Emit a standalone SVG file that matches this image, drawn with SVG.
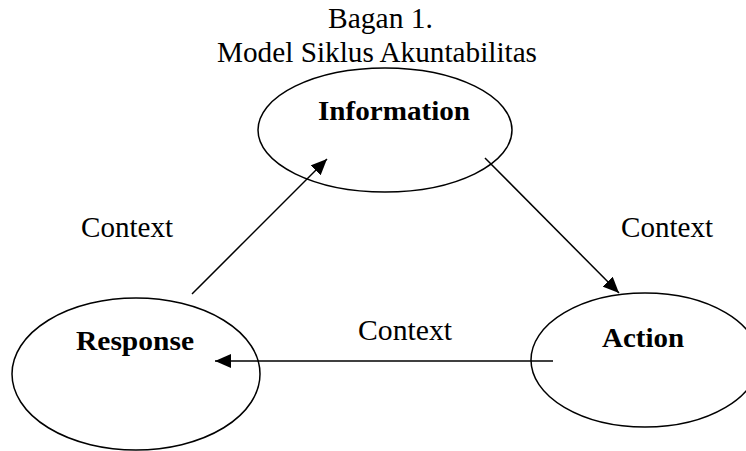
<svg xmlns="http://www.w3.org/2000/svg" width="746" height="451" viewBox="0 0 746 451">
  <defs>
    <marker id="arrow" viewBox="0 0 16 14" refX="16" refY="7" markerWidth="16" markerHeight="14" markerUnits="userSpaceOnUse" orient="auto">
      <path d="M0,0 L16,7 L0,14 z" fill="#000"/>
    </marker>
    <style>
      .node { fill: #fff; stroke: #000; stroke-width: 1.5; }
      .title { font-family: "Liberation Serif", "Times New Roman", serif; font-size: 29px; fill: #000; }
      .ctx { font-family: "Liberation Serif", "Times New Roman", serif; font-size: 29px; fill: #000; }
      .label { font-family: "Liberation Serif", "Times New Roman", serif; font-size: 27px; font-weight: bold; fill: #000; }
      .edge { fill: none; stroke: #000; stroke-width: 1.5; marker-end: url(#arrow); }
    </style>
  </defs>
  <rect width="746" height="451" fill="#fff"/>

  <!-- heading -->
  <text class="title" x="328" y="28" textLength="105" lengthAdjust="spacingAndGlyphs">Bagan 1.</text>
  <text class="title" x="217" y="62" textLength="320" lengthAdjust="spacingAndGlyphs">Model Siklus Akuntabilitas</text>

  <!-- nodes -->
  <g id="information">
    <ellipse class="node" cx="385" cy="130" rx="127" ry="62"/>
    <text class="label" x="318" y="120" textLength="152" lengthAdjust="spacingAndGlyphs">Information</text>
  </g>
  <g id="action">
    <ellipse class="node" cx="645" cy="360" rx="114" ry="67"/>
    <text class="label" x="602" y="347" textLength="82" lengthAdjust="spacingAndGlyphs">Action</text>
  </g>
  <g id="response">
    <ellipse class="node" cx="136" cy="374" rx="124" ry="76"/>
    <text class="label" x="76" y="350" textLength="118" lengthAdjust="spacingAndGlyphs">Response</text>
  </g>

  <!-- connectors -->
  <g id="connectors">
    <line class="edge" x1="192" y1="294" x2="327" y2="159"/>
    <line class="edge" x1="485" y1="158" x2="619" y2="293"/>
    <line class="edge" x1="553" y1="361" x2="215" y2="361"/>
    <text class="ctx" x="81" y="237" textLength="92" lengthAdjust="spacingAndGlyphs">Context</text>
    <text class="ctx" x="621" y="237" textLength="92" lengthAdjust="spacingAndGlyphs">Context</text>
    <text class="ctx" x="358" y="340" textLength="94" lengthAdjust="spacingAndGlyphs">Context</text>
  </g>
</svg>
